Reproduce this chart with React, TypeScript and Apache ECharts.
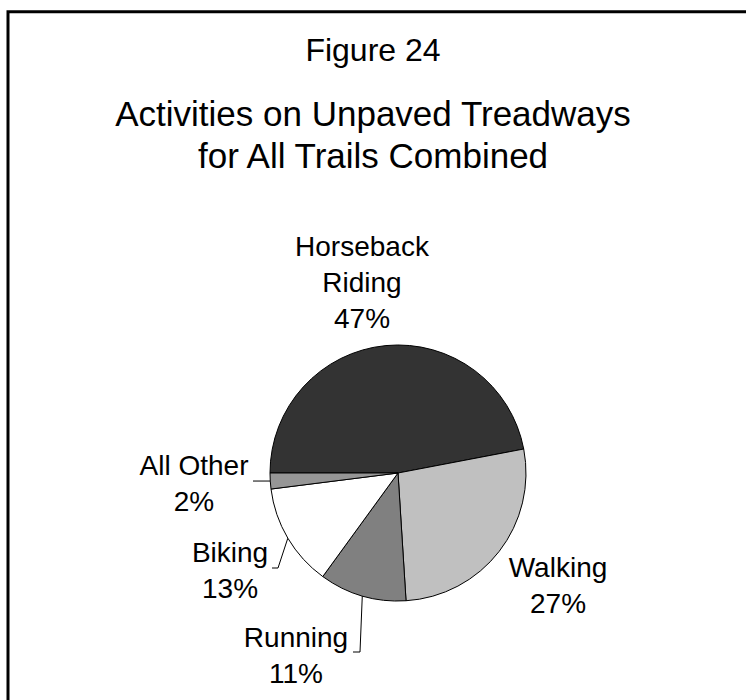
import React, { useEffect, useRef } from "react";
import * as echarts from "echarts";

const categories = ["Horseback Riding", "Walking", "Running", "Biking", "All Other"];
const values = [47, 27, 11, 13, 2];
const sliceColors = ["#333333", "#c0c0c0", "#808080", "#ffffff", "#969696"];
const displayNames: Record<string, string> = { "Horseback Riding": "Horseback\nRiding" };

const FONT = "'Liberation Sans', Arial, Helvetica, sans-serif";
const CENTER: [number, number] = [398, 473];
const RADIUS = 128;
const START = 180;

// label block anchors (style/layout, not data)
const labelAnchors: [number, number][] = [
  [362, 282],
  [558, 585],
  [296, 655],
  [230, 570],
  [194, 483],
];

function midPoint(i: number): [number, number] {
  const total = values.reduce((a, b) => a + b, 0);
  let before = 0;
  for (let k = 0; k < i; k++) before += values[k];
  const midFrac = (before + values[i] / 2) / total;
  const ang = ((START - midFrac * 360) * Math.PI) / 180;
  return [CENTER[0] + RADIUS * Math.cos(ang), CENTER[1] - RADIUS * Math.sin(ang)];
}

export default function App() {
  const ref = useRef<HTMLDivElement>(null);
  useEffect(() => {
    document.body.style.margin = "0";
    if (!ref.current) return;
    const chart = echarts.init(ref.current, undefined, { renderer: "svg" });
    chart.setOption({
      animation: false,
      backgroundColor: "#ffffff",
      textStyle: { fontFamily: FONT },
      graphic: [
        {
          type: "rect",
          shape: { x: 8, y: 11.7, width: 800, height: 800 },
          style: { fill: "none", stroke: "#000", lineWidth: 3 },
          silent: true,
        },
      ],
      title: [
        {
          text: "Figure 24",
          left: "center",
          top: 34,
          padding: 0,
          textStyle: { fontFamily: FONT, fontSize: 32, fontWeight: "normal", color: "#000", lineHeight: 32 },
        },
        {
          text: "Activities on Unpaved Treadways\nfor All Trails Combined",
          left: "center",
          top: 92,
          padding: 0,
          textStyle: { fontFamily: FONT, fontSize: 35, fontWeight: "normal", color: "#000", lineHeight: 42 },
        },
      ],
      series: [
        {
          type: "pie",
          center: CENTER,
          radius: RADIUS,
          startAngle: START,
          clockwise: true,
          avoidLabelOverlap: false,
          itemStyle: { borderColor: "#000", borderWidth: 1 },
          label: {
            show: true,
            position: "outside",
            fontFamily: FONT,
            fontSize: 28,
            lineHeight: 36,
            color: "#000",
            align: "center",
            formatter: (p: any) => `${displayNames[p.name] || p.name}\n${p.value}%`,
          },
          labelLine: { show: true, lineStyle: { color: "#000", width: 1 }, length: 10, length2: 10 },
          labelLayout: (params: any) => {
            const i = params.dataIndex;
            const [x, y] = labelAnchors[i];
            const p0 = midPoint(i);
            let pts: number[][] | undefined;
            if (i === 4) pts = [p0, [253, p0[1]]];
            if (i === 3) pts = [p0, [278, 568], [272, 568]];
            if (i === 2) pts = [p0, [360, 652], [353, 652]];
            const out: any = { x, y, align: "center", verticalAlign: "middle" };
            if (pts) out.labelLinePoints = pts;
            return out;
          },
          data: categories.map((name, i) => ({
            name,
            value: values[i],
            itemStyle: { color: sliceColors[i] },
            labelLine: { show: i >= 2 },
          })),
        },
      ],
    });
    return () => chart.dispose();
  }, []);
  return <div ref={ref} style={{ width: 746, height: 700 }} />;
}
